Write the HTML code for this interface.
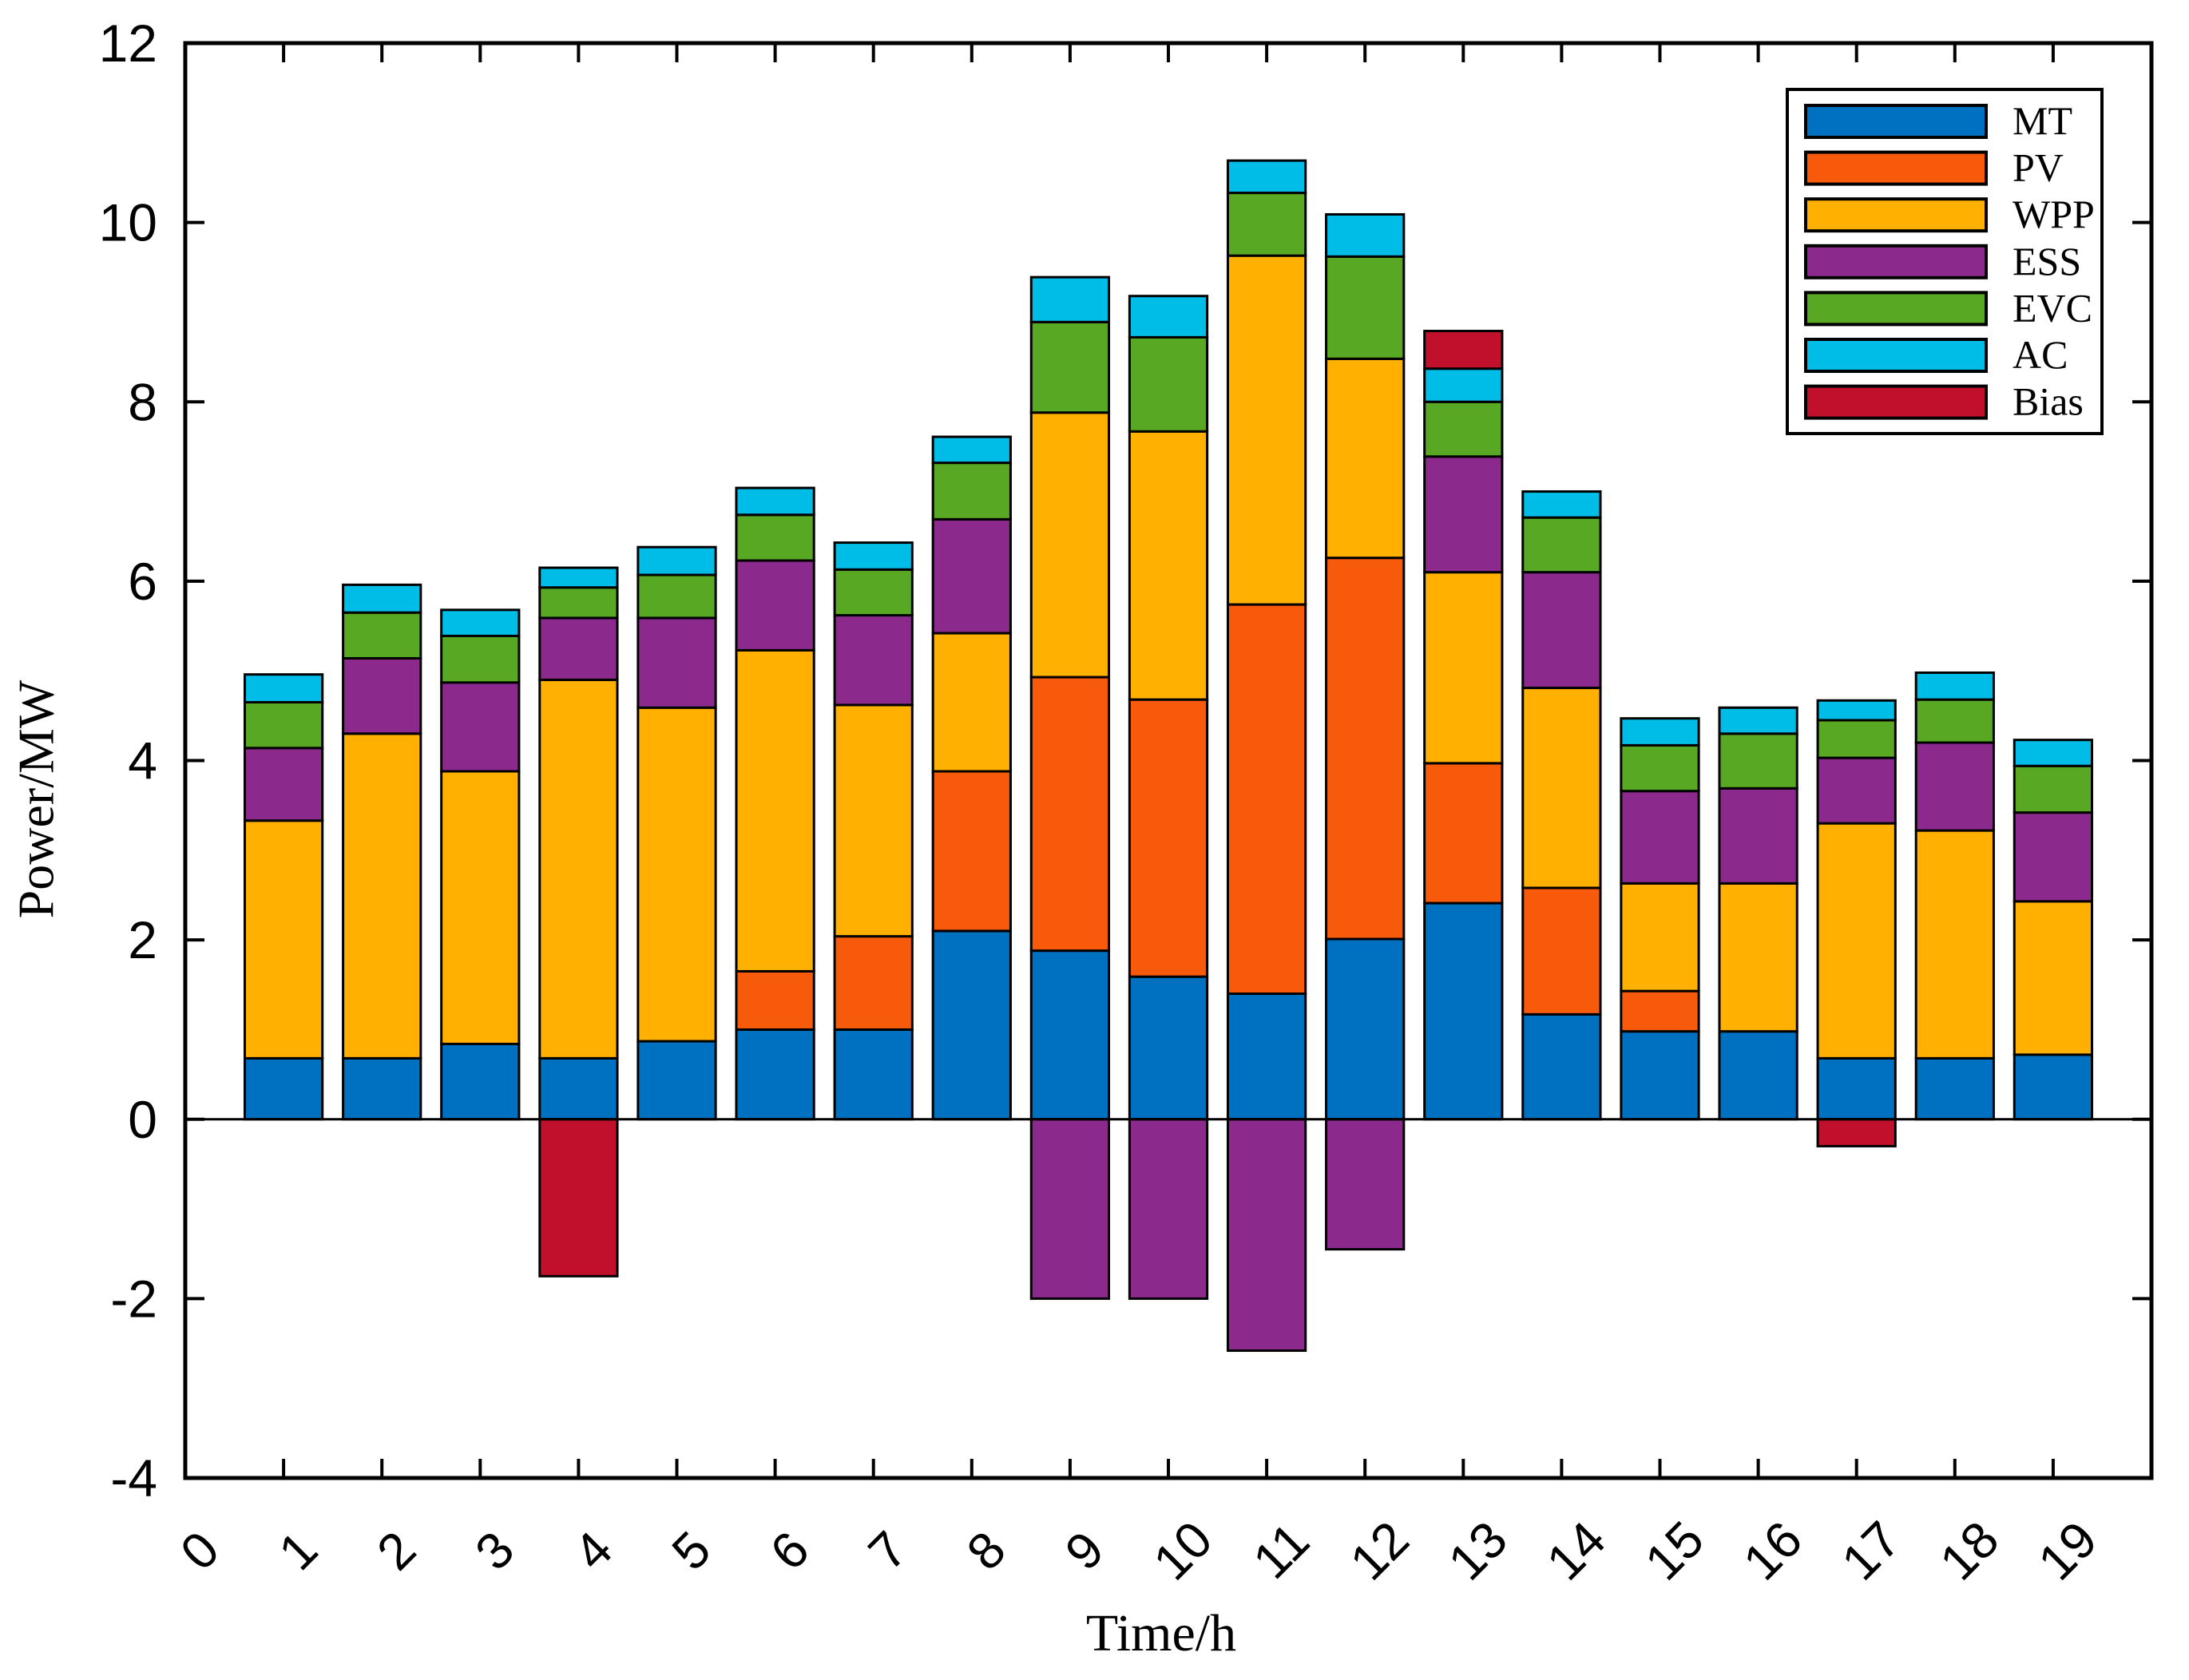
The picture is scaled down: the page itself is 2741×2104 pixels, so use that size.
<!DOCTYPE html>
<html><head><meta charset="utf-8"><style>
html,body{margin:0;padding:0;background:#fff;}
svg{display:block;}
</style></head><body>
<svg id="chart" width="2741" height="2104" xmlns="http://www.w3.org/2000/svg">
<rect x="0" y="0" width="2741" height="2104" fill="#fff"/>
<g id="bars"></g>
<g id="axes"></g>
<g id="legend"></g>
</svg>
<script>
const hours = [1,2,3,4,5,6,7,8,9,10,11,12,13,14,15,16,17,18,19];
const seriesNames = ["MT","PV","WPP","ESS","EVC","AC","Bias"];
const MT  = [0.68,0.68,0.84,0.68,0.87,1.00,1.00,2.10,1.88,1.59,1.40,2.01,2.41,1.17,0.98,0.98,0.68,0.68,0.72];
const PV  = [0,0,0,0,0,0.65,1.04,1.78,3.05,3.09,4.34,4.25,1.56,1.41,0.45,0,0,0,0];
const WPP = [2.65,3.62,3.04,4.22,3.72,3.58,2.58,1.54,2.95,2.99,3.89,2.22,2.13,2.23,1.20,1.65,2.62,2.54,1.71];
const ESS = [0.81,0.84,0.99,0.69,1.00,1.00,1.00,1.27,-2.00,-2.00,-2.58,-1.45,1.29,1.29,1.03,1.06,0.73,0.98,0.99];
const EVC = [0.51,0.51,0.52,0.34,0.48,0.51,0.51,0.63,1.01,1.05,0.70,1.14,0.61,0.61,0.51,0.61,0.42,0.48,0.52];
const AC  = [0.31,0.31,0.29,0.22,0.31,0.30,0.30,0.29,0.50,0.46,0.36,0.47,0.37,0.29,0.30,0.29,0.22,0.30,0.29];
const Bias= [0,0,0,-1.75,0,0,0,0,0,0,0,0,0.42,0,0,0,-0.30,0,0];
const yTicks = [-4,-2,0,2,4,6,8,10,12];
const xTicks = [0,1,2,3,4,5,6,7,8,9,10,11,12,13,14,15,16,17,18,19];

const colors = ["#0070c0","#f85a0c","#ffb000","#8b2a8c","#58a823","#00bde8","#c0102c"];
const L=232,R=2694,T=54,B=1851, XMIN=0,XMAX=20,YMIN=-4,YMAX=12;
const xs = v => L + (v-XMIN)/(XMAX-XMIN)*(R-L);
const ys = v => B - (v-YMIN)/(YMAX-YMIN)*(B-T);
const NS="http://www.w3.org/2000/svg";
function mk(tag, attrs, parent){const e=document.createElementNS(NS,tag);for(const k in attrs)e.setAttribute(k,attrs[k]);parent.appendChild(e);return e;}
const barsG=document.getElementById('bars'), axG=document.getElementById('axes'), lg=document.getElementById('legend');
const allSeries=[MT,PV,WPP,ESS,EVC,AC,Bias];
const bw=0.79*(xs(1)-xs(0));
hours.forEach((h,i)=>{
  let pos=0,neg=0;
  allSeries.forEach((s,si)=>{
    const v=s[i]; if(!v) return;
    let y0,y1;
    if(v>0){y0=pos;y1=pos+v;pos=y1;}else{y0=neg;y1=neg+v;neg=y1;}
    const r=mk('rect',{x:xs(h)-bw/2,y:ys(Math.max(y0,y1)),width:bw,height:Math.abs(ys(y0)-ys(y1)),fill:colors[si],stroke:'#000','stroke-width':3},barsG);
    
    
  });
});
const zl=mk('line',{x1:L,x2:R,y1:ys(0),y2:ys(0),stroke:'#000','stroke-width':3},axG);


const fr=mk('rect',{x:L,y:T,width:R-L,height:B-T,fill:'none',stroke:'#000','stroke-width':5},axG);


yTicks.forEach(t=>{
  const y=ys(t);
  mk('line',{x1:L,x2:L+24,y1:y,y2:y,stroke:'#000','stroke-width':4},axG);
  mk('line',{x1:R,x2:R-24,y1:y,y2:y,stroke:'#000','stroke-width':4},axG);
  const tx=mk('text',{x:197,y:y,'text-anchor':'end','dominant-baseline':'central','font-family':'Liberation Sans, Arial, sans-serif','font-size':66,fill:'#000'},axG);
  tx.textContent=t;
  
  
});
xTicks.forEach(t=>{
  const x=xs(t);
  mk('line',{x1:x,x2:x,y1:B,y2:B-24,stroke:'#000','stroke-width':4},axG);
  mk('line',{x1:x,x2:x,y1:T,y2:T+24,stroke:'#000','stroke-width':4},axG);
  const cx=x+18, cy=1942;
  const tx=mk('text',{x:cx,y:cy,'text-anchor':'middle','dominant-baseline':'central','font-family':'Liberation Sans, Arial, sans-serif','font-size':64,fill:'#000',transform:`rotate(-45 ${cx} ${cy})`},axG);
  tx.textContent=t;
  
  
});
const xt=mk('text',{x:1454,y:2067,'text-anchor':'middle','font-family':'Liberation Serif, Times New Roman, serif','font-size':66,fill:'#000'},axG);
xt.textContent='Time/h';


const yt=mk('text',{x:0,y:0,'text-anchor':'middle','dominant-baseline':'central','font-family':'Liberation Serif, Times New Roman, serif','font-size':64,fill:'#000',transform:'translate(45 1001) rotate(-90)'},axG);
yt.textContent='Power/MW';


const lb=mk('rect',{x:2238,y:112,width:394,height:431,fill:'#fff',stroke:'#000','stroke-width':4},lg);


seriesNames.forEach((n,i)=>{
  const y=132+i*58.6;
  const sw=mk('rect',{x:2261,y:y,width:226,height:40,fill:colors[i],stroke:'#000','stroke-width':4},lg);
  
  
  const tx=mk('text',{x:2520,y:y+36,'font-family':'Liberation Serif, Times New Roman, serif','font-size':50,fill:'#000'},lg);
  tx.textContent=n;
  
  
});
</script>
</body></html>
